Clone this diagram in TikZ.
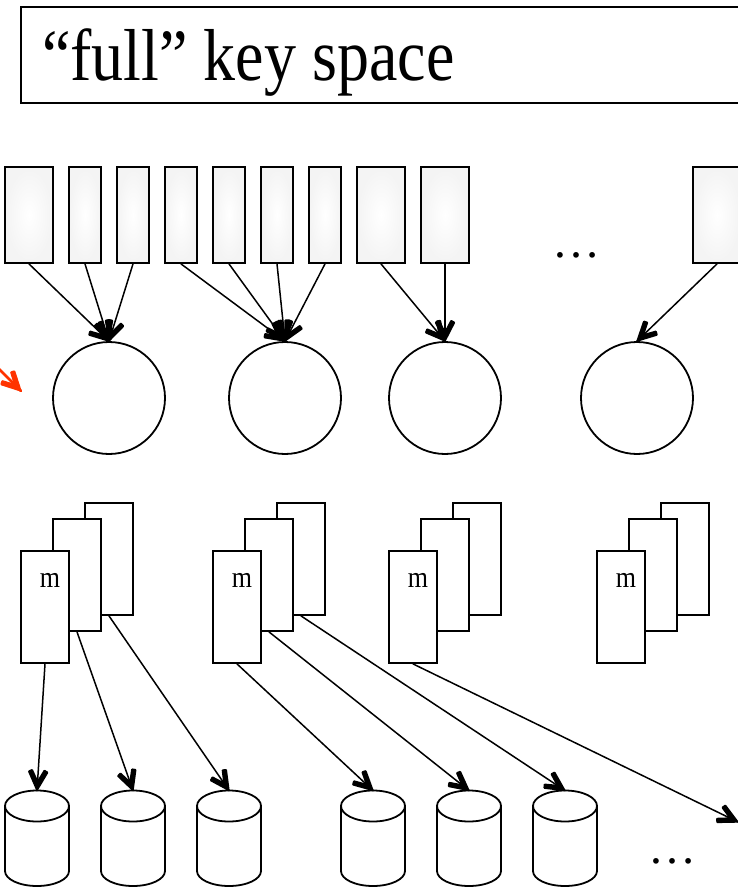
\documentclass[tikz,border=0pt]{standalone}
\usepackage{fontspec}
\setmainfont{Liberation Serif}
\usetikzlibrary{decorations.markings}
\definecolor{arrred}{RGB}{255,51,0}
\newcommand\cylat[2]{%
  \draw[shapeline, fill=white] (#2-32,806) -- (#2-32,871)
     arc[start angle=180, end angle=0, x radius=32, y radius=15] -- (#2+32,806);
  \draw[shapeline, fill=white] (#2,806) ellipse[x radius=32, y radius=15.5];
  \coordinate (#1) at (#2,790.5);
}
\begin{document}
\begin{tikzpicture}[x=1pt,y=-1pt,
  shapeline/.style={line width=1.8pt},
  keybox/.style={draw, shapeline, rectangle, inner sep=0pt, minimum height=96pt,
     inner color=white, outer color=gray!9},
  narrow/.style={keybox, minimum width=32pt},
  wide/.style={keybox, minimum width=48pt},
  node/.style={draw, shapeline, circle, inner sep=0pt, minimum size=112pt},
  page/.style={draw, shapeline, fill=white, rectangle, inner sep=0pt,
     minimum width=48pt, minimum height=112pt},
  mlabel/.style={inner sep=0pt, font=\fontsize{26}{26}\selectfont},
  conn/.style={line width=1.5pt, line cap=round, draw=#1,
     postaction={decorate, decoration={markings, mark=at position 1 with {
        \fill[#1, rounded corners=1pt]
           (1.5pt,0pt) -- (-19pt,10.5pt) -- (-21.5pt,5.8pt) -- (-10.5pt,0pt)
           -- (-21.5pt,-5.8pt) -- (-19pt,-10.5pt) -- cycle;}}}},
  conn/.default=black,
  dots/.style={inner sep=0pt, anchor=base, font=\fontsize{48}{48}\selectfont}
]
\useasboundingbox (0,0) rectangle (738,887);
\clip (0,0) rectangle (738,887);

% title
\node[draw, shapeline, rectangle, inner sep=0pt, minimum width=730pt, minimum height=96pt] (title) at (386,55) {};
\node[inner sep=0pt, anchor=base west, font=\fontsize{64}{64}\selectfont] (titletext) at (42,80)
   {\scalebox{1}[1.15]{“full” key space}};

% key ranges
\node[wide]   (r1)  at (29,215) {};
\node[narrow] (r2)  at (85,215) {};
\node[narrow] (r3)  at (133,215) {};
\node[narrow] (r4)  at (181,215) {};
\node[narrow] (r5)  at (229,215) {};
\node[narrow] (r6)  at (277,215) {};
\node[narrow] (r7)  at (325,215) {};
\node[wide]   (r8)  at (381,215) {};
\node[wide]   (r9)  at (445,215) {};
\node[wide]   (r10) at (717,215) {};
\node[dots] (dotsa) at (576,257) {…};

% circles
\node[node] (k1) at (109,398) {};
\node[node] (k2) at (285,398) {};
\node[node] (k3) at (445,398) {};
\node[node] (k4) at (637,398) {};

\draw[conn] (r1.south) -- (k1.north);
\draw[conn] (r2.south) -- (k1.north);
\draw[conn] (r3.south) -- (k1.north);
\draw[conn] (r4.south) -- (k2.north);
\draw[conn] (r5.south) -- (k2.north);
\draw[conn] (r6.south) -- (k2.north);
\draw[conn] (r7.south) -- (k2.north);
\draw[conn] (r8.south) -- (k3.north);
\draw[conn] (r9.south) -- (k3.north);
\draw[conn] (r10.south) -- (k4.north);

% red arrow
\coordinate (redstart) at (-40,330);
\coordinate (redtip) at (21,391);
\draw[conn=arrred, line width=2.5pt] (redstart) -- (redtip);

% stacks of pages
\node[page] (s1c) at (109,559) {};
\node[page] (s1b) at (77,575) {};
\node[page] (s1a) at (45,607) {};
\node[page] (s2c) at (301,559) {};
\node[page] (s2b) at (269,575) {};
\node[page] (s2a) at (237,607) {};
\node[page] (s3c) at (477,559) {};
\node[page] (s3b) at (445,575) {};
\node[page] (s3a) at (413,607) {};
\node[page] (s4c) at (685,559) {};
\node[page] (s4b) at (653,575) {};
\node[page] (s4a) at (621,607) {};
\node[mlabel] (m1) at (50,580) {\scalebox{1}[1.15]{m}};
\node[mlabel] (m2) at (242,580) {\scalebox{1}[1.15]{m}};
\node[mlabel] (m3) at (418,580) {\scalebox{1}[1.15]{m}};
\node[mlabel] (m4) at (626,580) {\scalebox{1}[1.15]{m}};

% disks
\cylat{d1}{37}
\cylat{d2}{133}
\cylat{d3}{229}
\cylat{d4}{373}
\cylat{d5}{469}
\cylat{d6}{565}
\coordinate (far) at (738,822);
\node[dots] (dotsb) at (672,863) {…};

\draw[conn] (s1a.south) -- (d1);
\draw[conn] (s1b.south) -- (d2);
\draw[conn] (s1c.south) -- (d3);
\draw[conn] (s2a.south) -- (d4);
\draw[conn] (s2b.south) -- (d5);
\draw[conn] (s2c.south) -- (d6);
\draw[conn] (s3a.south) -- (far);
\end{tikzpicture}
\end{document}
